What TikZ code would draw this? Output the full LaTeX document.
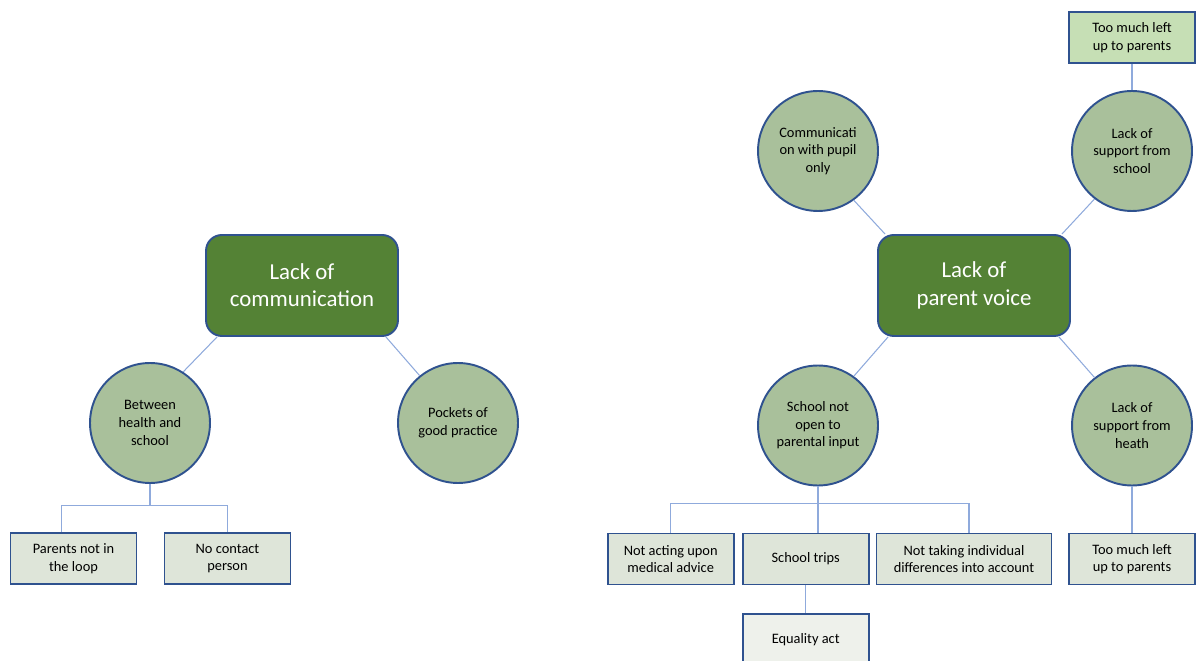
\documentclass[tikz,border=0pt]{standalone}
\usepackage{fontspec}
\setmainfont{Carlito}
\usetikzlibrary{positioning}
\definecolor{darkgreen}{HTML}{548235}
\definecolor{midgreen}{HTML}{A9C09B}
\definecolor{palegreen}{HTML}{DEE5D9}
\definecolor{brightgreen}{HTML}{C6DFB5}
\definecolor{whitegreen}{HTML}{EEF1EB}
\definecolor{borderblue}{HTML}{2F528F}
\definecolor{linkblue}{HTML}{8FAADC}

\begin{document}
\begin{tikzpicture}[x=0.02cm, y=-0.02cm,
    main style/.style={rectangle, rounded corners=9pt, draw=borderblue, line width=1.1pt, fill=darkgreen, text=white, minimum width=3.84cm, minimum height=2.02cm, align=center, font=\fontsize{13}{15.5}\selectfont},
    circle style/.style={circle, draw=borderblue, line width=1.1pt, fill=midgreen, minimum size=2.4cm, inner sep=1pt, align=center, font=\fontsize{8.2}{10}\selectfont},
    leaf style/.style={rectangle, draw=borderblue, line width=1.1pt, fill=palegreen, minimum width=2.52cm, minimum height=1.02cm, inner sep=1pt, align=center, font=\fontsize{8.2}{10}\selectfont},
    link/.style={draw=linkblue, line width=0.6pt}
]
\useasboundingbox (0,0) rectangle (1196,661);

% left tree
\node[main style] (comm) at (302,285.5) {Lack of\\communication};
\node[circle style] (bhs) at (150,423) {Between\\health and\\school};
\node[circle style] (pgp) at (458,423) {Pockets of\\good practice};
\node[leaf style] (pnl) at (73.5,558.5) {Parents not in\\the loop};
\node[leaf style] (ncp) at (227.5,558.5) {No contact\\person};

\draw[link] ([xshift=0.24cm]comm.south west) -- (bhs.57);
\draw[link] ([xshift=-0.26cm]comm.south east) -- (pgp.129);
\draw[link] (bhs.south) -- ++(0,22) coordinate (lbus);
\draw[link] ([xshift=-0.24cm]pnl.north) |- (lbus) -| (ncp.north);

% right tree
\node[main style] (pv) at (974,285.5) {Lack of\\parent voice};
\node[circle style] (cwp) at (818,151) {Communicati\\on with pupil\\only};
\node[circle style] (lss) at (1132,151) {Lack of\\support from\\school};
\node[circle style] (sno) at (818,425.5) {School not\\open to\\parental input};
\node[circle style] (lsh) at (1132,425.5) {Lack of\\support from\\heath};
\node[leaf style, fill=brightgreen] (tmt) at (1132,37.5) {Too much left\\up to parents};
\node[leaf style] (nam) at (670.7,559) {Not acting upon\\medical advice};
\node[leaf style] (trips) at (805.7,559) {School trips};
\node[leaf style, minimum width=3.5cm] (ntd) at (964,559) {Not taking individual\\differences into account};
\node[leaf style] (tmb) at (1132,559) {Too much left\\up to parents};
\node[leaf style, fill=whitegreen] (eq) at (805.7,639.5) {Equality act};

\draw[link] (cwp.306) -- ([xshift=0.16cm]pv.north west);
\draw[link] (lss.232) -- ([xshift=-0.18cm]pv.north east);
\draw[link] ([xshift=0.22cm]pv.south west) -- (sno.54);
\draw[link] ([xshift=-0.24cm]pv.south east) -- (lsh.128);
\draw[link] (lss.north) -- (tmt.south);
\draw[link] (lsh.south) -- (tmb.north);
\draw[link] (sno.south) -- (sno.south |- trips.north);
\draw[link] (sno.south) ++(0,17.5) coordinate (rbus);
\draw[link] (nam.north) |- (rbus) -| ([xshift=0.1cm]ntd.north);
\draw[link] (trips.south) -- (eq.north);
\end{tikzpicture}
\end{document}
